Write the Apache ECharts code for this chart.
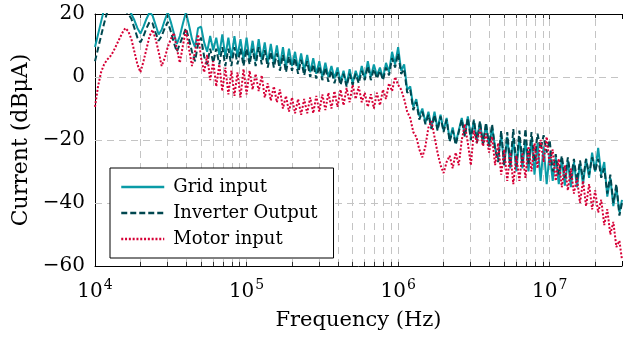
<!DOCTYPE html>
<html><head><meta charset="utf-8">
<script src="https://cdn.jsdelivr.net/npm/echarts@6/dist/echarts.min.js"></script>
<style>html,body{margin:0;padding:0;background:#fff}#c{width:625px;height:338px}</style>
</head><body><div id="c"></div>
<script>
// Frequency grid (Hz)
const freq = [
1.000e4,1.047e4,1.096e4,1.148e4,1.202e4,1.259e4,1.318e4,1.380e4,1.445e4,1.514e4,1.585e4,1.660e4,1.738e4,1.820e4,1.905e4,1.995e4,2.089e4,2.188e4,2.291e4,2.399e4,2.512e4,2.630e4,2.754e4,2.884e4,3.020e4,3.162e4,3.311e4,3.467e4,3.631e4,3.802e4,3.981e4,4.169e4,4.365e4,4.571e4,4.786e4,5.012e4,5.248e4,5.495e4,5.754e4,6.026e4,6.310e4,6.607e4,6.918e4,7.244e4,7.586e4,7.943e4,8.318e4,8.710e4,9.120e4,9.550e4,
1.000e5,1.047e5,1.096e5,1.148e5,1.202e5,1.259e5,1.318e5,1.380e5,1.445e5,1.514e5,1.585e5,1.660e5,1.738e5,1.820e5,1.905e5,1.995e5,2.089e5,2.188e5,2.291e5,2.399e5,2.512e5,2.630e5,2.754e5,2.884e5,3.020e5,3.162e5,3.311e5,3.467e5,3.631e5,3.802e5,3.981e5,4.169e5,4.365e5,4.571e5,4.786e5,5.012e5,5.248e5,5.495e5,5.754e5,6.026e5,6.310e5,6.607e5,6.918e5,7.244e5,7.586e5,7.943e5,8.318e5,8.710e5,9.120e5,9.550e5,
1.000e6,1.047e6,1.096e6,1.148e6,1.202e6,1.259e6,1.318e6,1.380e6,1.445e6,1.514e6,1.585e6,1.660e6,1.738e6,1.820e6,1.905e6,1.995e6,2.089e6,2.188e6,2.291e6,2.399e6,2.512e6,2.630e6,2.754e6,2.884e6,3.020e6,3.162e6,3.311e6,3.467e6,3.631e6,3.802e6,3.981e6,4.169e6,4.365e6,4.571e6,4.786e6,5.012e6,5.248e6,5.495e6,5.754e6,6.026e6,6.310e6,6.607e6,6.918e6,7.244e6,7.586e6,7.943e6,8.318e6,8.710e6,9.120e6,9.550e6,
1.000e7,1.047e7,1.096e7,1.148e7,1.202e7,1.259e7,1.318e7,1.380e7,1.445e7,1.514e7,1.585e7,1.660e7,1.738e7,1.820e7,1.905e7,1.995e7,2.089e7,2.188e7,2.291e7,2.399e7,2.512e7,2.630e7,2.754e7,2.884e7,3.000e7
];

// Current (dBµA)
const gridInput = [
9.5,13.5,17.5,21.5,24,25,25,24.5,24,23,22.5,
21.5,20,18,15.5,13.8,16,18.5,20.5,19.5,16.5,
13.5,15,18,20.5,17.5,14,10.5,13,17,20.5,
16.5,12,9.5,15.5,16,11,8,13,8.5,12.5,
7,13.5,6.5,12.5,6,13,6.5,12,5.5,12.5,
5.5,11.5,5,12,5.5,11,4.5,10.5,4.5,10,
3.5,9.5,3,9,3.5,8,2.5,7.5,2,7,
1.5,6,1,5,0,4.5,0,3.5,-0.5,3,
-1.5,2,-2.5,2.5,-2,2,-1,3.5,-0.5,5,
0,4,0.5,3,-0.5,4.5,1.5,8,4,9.5,
2,4,-4,-3,-9.5,-7,-12.5,-10,-14.5,-11,
-16,-11,-16.5,-12,-17,-13,-20,-16,-21,-17,
-13,-18.5,-12.5,-19,-14,-20,-14.5,-21,-15,-22,
-16,-22.5,-26,-18.5,-28,-19,-29,-19.5,-30,-19,
-29,-20,-30,-19.5,-31,-21,-33,-22,-34,-24,
-33,-25.5,-34,-26,-34.5,-26.5,-35,-27,-35,-27.5,
-34,-26,-32,-24,-30,-22.5,-31,-27,-38,-32,
-41,-35,-43,-39
];
const inverterOutput = [
5,9,13,17,20.5,22,23,23,22.5,22,21,
20,18.5,15.5,12.5,11,13,15.5,17.5,17,14,
11.5,13,15.5,17.5,14.5,11,8,10.5,13,15.5,
12,8,5,10.5,12.5,6.5,4,9,4.5,9,
4,9.5,3.5,9,3.5,9.5,4,9,3.5,9,
4,9,3.5,9.5,4,8.5,3,8,3,7.5,
2,7,1.5,6.5,2,6,1,5.5,0.5,5,
0,4,-0.5,3.5,-1,3,-1.5,2,-2,1.5,
-2.5,1,-3,1,-2.5,1,-2,2,-1,3.5,
-1,2.5,-0.5,2,-1,3,0.5,6,3,7.5,
1,2.5,-5,-4,-10.5,-8,-13.5,-11,-15,-12,
-16.5,-12,-17,-12.5,-17.5,-13.5,-20.5,-17,-21.5,-17.5,
-13.5,-19,-13,-20,-13.5,-21,-14,-21.5,-14.5,-22,
-15,-23,-27,-17,-28,-17.5,-28,-16.5,-28.5,-17,
-27.5,-16.5,-28,-17.5,-27,-18,-23,-18.5,-24,-20,
-30,-24.5,-31,-25,-32,-25.5,-32.5,-26,-33,-26.5,
-32.5,-26,-31,-25.5,-30,-26,-32,-29,-37,-31,
-40,-34,-44,-40
];
const motorInput = [
-9.5,-3,1.5,4,5.5,6.5,8,10,12,14,15.5,
14.5,12,8,4,1.5,5,9,13,15,12,
8,3.5,6,9.5,12,14,9,4.5,10,15,
9,3.5,8,13.5,6,1.5,7,-1,5,-3,
4,-4.5,3,-5.5,2,-6,1.5,-6.5,2.5,-5.5,
2,-4,1,-4.5,0.5,-6.5,-2,-7.5,-3,-8,
-4,-10,-6,-11,-6.5,-11.5,-7,-12,-7,-11.5,
-6.5,-11.5,-6,-11,-5.5,-10.5,-5,-10,-4.5,-9.5,
-4,-9,-3.5,-8,-2.5,-7,-3,-8,-5,-9.5,
-5.5,-10,-5,-9,-4,-7,-2,-4.5,0,-2.5,
-4,-7,-11,-13,-17.5,-19,-23,-25.5,-22,-16,
-14,-19,-24,-28,-30.5,-27,-25,-29,-24,-28,
-20,-15,-21,-28,-17,-21,-16.5,-22,-18,-24,
-19,-28,-21,-31,-23,-33,-24,-34,-25,-33,
-24,-32,-22,-30,-21,-29,-20,-27,-19,-28,
-23,-33,-26,-35,-28,-36,-29,-37,-32,-40,
-33,-41,-34,-42,-36,-43,-39,-47,-42,-50,
-46,-54,-52,-58
];

const seriesNames = ['Grid input', 'Inverter Output', 'Motor input'];
const gridFreqs = [2e4,3e4,4e4,5e4,6e4,7e4,8e4,9e4,1e5,2e5,3e5,4e5,5e5,6e5,7e5,8e5,9e5,1e6,2e6,3e6,4e6,5e6,6e6,7e6,8e6,9e6,1e7,2e7];
const gridLevels = [-40, -20, 0];
const yMin = -60, yMax = 20, tickLenDb = 1.3;

const FONT = 'DejaVu Serif';
const zip = vals => freq.map((f, i) => [f, vals[i]]);
const gridLineStyle = { color: '#c4c4c4', width: 1, type: [7, 5] };

const minorTickLines = [];
gridFreqs.forEach(f => {
  minorTickLines.push([{ coord: [f, yMin] }, { coord: [f, yMin + tickLenDb] }]);
  minorTickLines.push([{ coord: [f, yMax] }, { coord: [f, yMax - tickLenDb] }]);
});

const chart = echarts.init(document.getElementById('c'), null, { renderer: 'canvas' });
chart.setOption({
  animation: false,
  backgroundColor: '#ffffff',
  grid: { left: 95, right: 0, top: 14, bottom: 72, containLabel: false },
  legend: {
    data: seriesNames,
    orient: 'vertical',
    left: 110, top: 168,
    itemWidth: 43, itemHeight: 14, itemGap: 6,
    padding: [9, 16, 9, 10],
    borderColor: '#000', borderWidth: 1, backgroundColor: '#fff',
    textStyle: { fontFamily: FONT, fontSize: 18, color: '#000', lineHeight: 20, padding: [0, 0, 0, 4] },
    lineStyle: { width: 2.5 },
    itemStyle: { opacity: 0 },
    selectedMode: false
  },
  xAxis: [{
    type: 'log', logBase: 10, min: 1e4, max: 3e7,
    name: 'Frequency (Hz)', nameLocation: 'middle', nameGap: 44,
    nameTextStyle: { fontFamily: FONT, fontSize: 21, color: '#000' },
    axisLine: { show: true, onZero: false, lineStyle: { color: '#000', width: 1 } },
    axisTick: { show: true, inside: true, length: 5, lineStyle: { color: '#000' } },
    splitLine: { show: false },
    axisLabel: {
      margin: 12,
      formatter: v => {
        const e = Math.log10(v);
        if (Math.abs(e - Math.round(e)) > 1e-6) return '';
        return '{b|10}{s|' + Math.round(e) + '}';
      },
      rich: {
        b: { fontFamily: FONT, fontSize: 20, color: '#000', verticalAlign: 'bottom' },
        s: { fontFamily: FONT, fontSize: 14, color: '#000', verticalAlign: 'bottom', padding: [0, 0, 10, 1] }
      }
    }
  }, {
    type: 'log', logBase: 10, min: 1e4, max: 3e7, position: 'top',
    axisLine: { show: true, onZero: false, lineStyle: { color: '#000', width: 1 } },
    axisTick: { show: true, inside: true, length: 5, lineStyle: { color: '#000' } },
    axisLabel: { show: false }, splitLine: { show: false }
  }],
  yAxis: {
    type: 'value', min: yMin, max: yMax, interval: 20,
    name: 'Current (dBμA)', nameLocation: 'middle', nameGap: 58, nameRotate: 90,
    nameTextStyle: { fontFamily: FONT, fontSize: 22, color: '#000' },
    axisLine: { show: true, onZero: false, lineStyle: { color: '#000', width: 1 } },
    axisTick: { show: true, inside: true, length: 5, lineStyle: { color: '#000' } },
    splitLine: { show: false },
    axisLabel: {
      margin: 10, fontFamily: FONT, fontSize: 20, color: '#000',
      formatter: v => (v < 0 ? '\u2212' + Math.abs(v) : String(v))
    }
  },
  series: [
    {
      type: 'line', data: [], silent: true, z: 1,
      markLine: {
        z: 1, silent: true, symbol: ['none', 'none'], label: { show: false },
        lineStyle: gridLineStyle, animation: false,
        data: gridFreqs.map(f => ({ xAxis: f })).concat(gridLevels.map(y => ({ yAxis: y })))
      }
    },
    {
      type: 'line', data: [], silent: true, z: 1,
      markLine: {
        z: 4, silent: true, symbol: ['none', 'none'], label: { show: false },
        lineStyle: { color: '#333', width: 1, type: 'solid' }, animation: false,
        data: minorTickLines
      }
    },
    {
      name: seriesNames[0], type: 'line', data: zip(gridInput), z: 3,
      showSymbol: false, symbol: 'none', color: '#0a9ba6',
      lineStyle: { color: '#0a9ba6', width: 2 }
    },
    {
      name: seriesNames[1], type: 'line', data: zip(inverterOutput), z: 3,
      showSymbol: false, symbol: 'none', color: '#00474f',
      lineStyle: { color: '#00474f', width: 2, type: [6, 3] }
    },
    {
      name: seriesNames[2], type: 'line', data: zip(motorInput), z: 3,
      showSymbol: false, symbol: 'none', color: '#d60036',
      lineStyle: { color: '#d60036', width: 2, type: [2, 1.8] }
    }
  ]
});
</script></body></html>
